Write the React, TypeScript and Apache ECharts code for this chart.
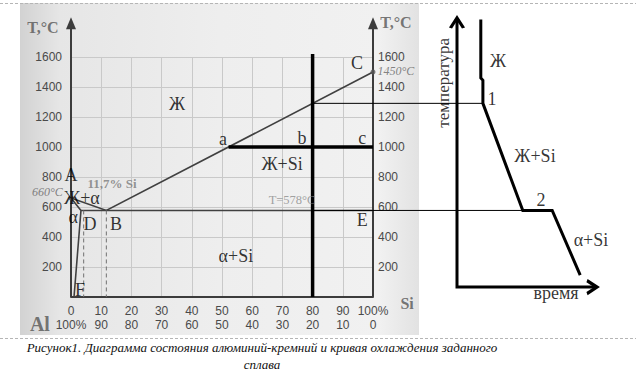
import React, { useEffect, useRef } from "react";
import * as echarts from "echarts";

// ---------- data ----------
const SI_TICKS = [0, 10, 20, 30, 40, 50, 60, 70, 80, 90, 100];
const TEMP_MIN = 0;
const TEMP_MAX = 1600;
const TEMP_STEP = 200;
const AXIS_TOP_T = 1825; // temperature at which axis arrows sit

// phase diagram key points: [Si %, °C]
const POINT_A = [0, 660];
const POINT_B = [11.7, 577];
const POINT_C = [100, 1500];
const POINT_D = [3.3, 577];
const POINT_E = [100, 577];
const POINT_F = [1, 0];
const DASH_D_SI = 4.2;
const ALLOY_SI = 80;
const ALLOY_TOP_T = 1620;
const TIE_T = 1000;

// cooling curve (time in arbitrary units, temperature °C)
const COOL_AXIS_T0 = 66;
const COOL_AXIS_TIP_T = 1860;
const COOL_AXIS_END_TIME = 100;
const COOL_TIME = [17, 17, 18.5, 18.5, 47, 68, 88];
const COOL_TEMP_FIXED = [1850, 1460, 1445, null, 577, 577, 146];

// text labels on the phase diagram
const PHASE_TEXT = ["T,°C", "T,°C", "Ж", "A", "660°C", "11,7% Si", "Ж+α", "α", "D", "B", "F", "a", "b", "c", "C", "1450°C", "Ж+Si", "T=578°C", "E", "α+Si", "Al", "Si"];
const PHASE_TEXT_SI = [-9.3, 107.6, 35.1, 0, -7.8, 13.6, 3.6, 0.7, 6.3, 14.9, 3.0, 50.3, 76.5, 96.4, 94.7, 107.6, 69.9, 73.2, 96.4, 54.6, -10.3, 111.3];
const PHASE_TEXT_T = [1800, 1830, 1288, 812, 703, 757, 657, 531, 485, 485, 46, 1056, 1062, 1062, 1560, 1507, 890, 644, 511, 272, -179, -46];
const PHASE_TEXT_KIND = ["axis", "axis", "big", "big", "italic", "gray", "big", "big", "big", "big", "big", "big", "big", "big", "big", "italic", "big", "faint", "big", "big", "al", "axis"];

// text labels on the cooling curve
const COOL_TEXT = ["Ж", "1", "Ж+Si", "2", "α+Si", "время", "температура"];
const COOL_TEXT_TIME = [29.3, 25, 55.7, 60, 95.7, 70.7, -10];
const COOL_TEXT_T = [1574, 1321, 943, 644, 378, 27, 1428];

const CAPTION = "Рисунок1. Диаграмма состояния алюминий-кремний и кривая охлаждения заданного\nсплава";

// ---------- layout ----------
const PD_LEFT = 71;
const PD_WIDTH = 302;
const CC_LEFT = 457;
const CC_WIDTH = 140;
const GRID_TOP = 57;
const GRID_BOTTOM = 93;
const W = 636;

const SERIF = "'Liberation Serif', 'Times New Roman', serif";
const SANS = "'Liberation Sans', Arial, sans-serif";

const KIND_STYLE: Record<string, any> = {
  big: { fontFamily: SERIF, fontSize: 18, color: "#000" },
  gray: { fontFamily: SERIF, fontSize: 13, color: "#7a7a7a", fontWeight: "bold" },
  faint: { fontFamily: SERIF, fontSize: 12.5, color: "#8c8c8c" },
  italic: { fontFamily: SERIF, fontSize: 12, color: "#666", fontStyle: "italic" },
  axis: { fontFamily: SERIF, fontSize: 16, color: "#555", fontWeight: "bold" },
  al: { fontFamily: SERIF, fontSize: 20, color: "#555", fontWeight: "bold" },
};

function lerpX(p: number[], q: number[], t: number) {
  return p[0] + ((t - p[1]) * (q[0] - p[0])) / (q[1] - p[1]);
}
function lerpY(p: number[], q: number[], x: number) {
  return p[1] + ((x - p[0]) * (q[1] - p[1])) / (q[0] - p[0]);
}
// time on the cooling-curve axis -> equivalent Si % on the phase-diagram axis
function timeToSi(t: number) {
  const px = CC_LEFT + (t / 100) * CC_WIDTH;
  return ((px - PD_LEFT) / PD_WIDTH) * 100;
}

function line(gridIndex: number, data: any[], color: string, width: number, extra: any = {}) {
  const { lineStyle: extraLine, ...rest } = extra;
  return {
    type: "line",
    xAxisIndex: gridIndex === 0 ? 0 : 2,
    yAxisIndex: gridIndex === 0 ? 0 : 2,
    data,
    showSymbol: true,
    symbol: "none",
    clip: false,
    silent: true,
    z: 3,
    ...rest,
    lineStyle: { color, width, cap: "butt", join: "miter", ...(extraLine || {}) },
  };
}

export default function App() {
  const ref = useRef<HTMLDivElement>(null);

  useEffect(() => {
    if (!ref.current) return;
    const chart = echarts.init(ref.current, null, { renderer: "svg" });

    const aSi = lerpX(POINT_B, POINT_C, TIE_T);
    const liqAtAlloy = lerpY(POINT_B, POINT_C, ALLOY_SI);
    const coolTemp = COOL_TEMP_FIXED.map((v) => (v === null ? liqAtAlloy : v));
    const coolData = COOL_TIME.map((t, i) => [t, coolTemp[i]]);
    const point1 = coolData[3];
    const point2 = coolData[4];
    const connectors = [
      [ALLOY_SI, point1[1], timeToSi(point1[0])],
      [ALLOY_SI, point2[1], timeToSi(point2[0])],
    ];

    const triArrow = (v: number[]) => ({ value: v, symbol: "triangle", symbolSize: [10, 12], itemStyle: { color: "#3c3c3c" } });
    const chevron = (v: number[], rotate: number, offset: number[]) => ({
      value: v,
      symbol: "path://M0,10 L6,0 L12,10",
      symbolSize: [13, 10],
      symbolRotate: rotate,
      symbolOffset: offset,
      itemStyle: { color: "rgba(0,0,0,0)", borderColor: "#000", borderWidth: 3 },
    });

    const phaseLabels = PHASE_TEXT.map((txt, i) => ({
      value: [PHASE_TEXT_SI[i], PHASE_TEXT_T[i]],
      label: { show: true, position: "inside", formatter: txt, ...KIND_STYLE[PHASE_TEXT_KIND[i]] },
    }));
    const coolLabels = COOL_TEXT.map((txt, i) => ({
      value: [COOL_TEXT_TIME[i], COOL_TEXT_T[i]],
      label: {
        show: true,
        position: "inside",
        formatter: txt,
        fontFamily: SERIF,
        fontSize: txt === "температура" ? 17 : 18,
        color: "#000",
        rotate: txt === "температура" ? 90 : 0,
      },
    }));

    const gridColor = "#c9c9c9";
    const tickLabel = { fontFamily: SANS, fontSize: 12, color: "#4a4a4a" };

    const option: any = {
      animation: false,
      backgroundColor: "#ffffff",
      graphic: [
        {
          type: "rect",
          z: -10,
          silent: true,
          shape: { x: 20, y: 3, width: 399, height: 332 },
          style: {
            fill: new echarts.graphic.LinearGradient(0, 0, 1, 0, [
              { offset: 0, color: "#d2d2d2" },
              { offset: 0.1, color: "#e6e6e6" },
              { offset: 0.5, color: "#eeeeee" },
              { offset: 0.9, color: "#f1f1f1" },
              { offset: 1, color: "#e2e2e2" },
            ]),
          },
        },
        {
          type: "line",
          z: -5,
          silent: true,
          shape: { x1: 0, y1: 3.5, x2: W, y2: 3.5 },
          style: { stroke: "#b5b5b5", lineWidth: 1, lineDash: [3, 2] },
        },
        {
          type: "line",
          z: -5,
          silent: true,
          shape: { x1: 0, y1: 338.5, x2: W, y2: 338.5 },
          style: { stroke: "#b5b5b5", lineWidth: 1, lineDash: [3, 2] },
        },
        {
          type: "text",
          x: 262,
          y: 339,
          silent: true,
          style: {
            text: CAPTION,
            textAlign: "center",
            textVerticalAlign: "top",
            fontFamily: SERIF,
            fontStyle: "italic",
            fontSize: 13,
            lineHeight: 17,
            fill: "#111",
          },
        },
      ],
      grid: [
        { left: PD_LEFT, width: PD_WIDTH, top: GRID_TOP, bottom: GRID_BOTTOM, containLabel: false },
        { left: CC_LEFT, width: CC_WIDTH, top: GRID_TOP, bottom: GRID_BOTTOM, containLabel: false },
      ],
      xAxis: [
        {
          gridIndex: 0,
          type: "value",
          min: SI_TICKS[0],
          max: SI_TICKS[SI_TICKS.length - 1],
          interval: SI_TICKS[1] - SI_TICKS[0],
          position: "bottom",
          axisLine: { show: true, lineStyle: { color: "#3c3c3c", width: 2 } },
          axisTick: { show: false },
          axisLabel: { ...tickLabel, margin: 8, formatter: (v: number) => (v === 100 ? "100%" : String(v)) },
          splitLine: { show: true, lineStyle: { color: gridColor, width: 1 } },
        },
        {
          gridIndex: 0,
          type: "value",
          min: SI_TICKS[0],
          max: SI_TICKS[SI_TICKS.length - 1],
          interval: SI_TICKS[1] - SI_TICKS[0],
          position: "bottom",
          offset: 14,
          axisLine: { show: false },
          axisTick: { show: false },
          axisLabel: { ...tickLabel, margin: 8, formatter: (v: number) => (v === 0 ? "100%" : String(100 - v)) },
          splitLine: { show: false },
        },
        { gridIndex: 1, type: "value", min: 0, max: 100, show: false },
      ],
      yAxis: [
        {
          gridIndex: 0,
          type: "value",
          min: TEMP_MIN,
          max: TEMP_MAX,
          interval: TEMP_STEP,
          position: "left",
          axisLine: { show: false },
          axisTick: { show: false },
          axisLabel: { ...tickLabel, margin: 9, formatter: (v: number) => (v === 0 ? "" : String(v)) },
          splitLine: { show: true, lineStyle: { color: gridColor, width: 1 } },
        },
        {
          gridIndex: 0,
          type: "value",
          min: TEMP_MIN,
          max: TEMP_MAX,
          interval: TEMP_STEP,
          position: "right",
          axisLine: { show: false },
          axisTick: { show: false },
          axisLabel: { ...tickLabel, margin: 5, formatter: (v: number) => (v === 0 ? "" : String(v)) },
          splitLine: { show: false },
        },
        { gridIndex: 1, type: "value", min: TEMP_MIN, max: TEMP_MAX, show: false },
      ],
      series: [
        // axes of the phase diagram
        line(0, [[0, 0], triArrow([0, AXIS_TOP_T])], "#3c3c3c", 2),
        line(0, [[100, 0], triArrow([100, AXIS_TOP_T])], "#3c3c3c", 2),
        // liquidus
        line(0, [POINT_A, POINT_B, POINT_C], "#404040", 1.6),
        // eutectic
        line(0, [POINT_D, POINT_E], "#404040", 1.6),
        // solidus + solvus
        line(0, [POINT_A, POINT_D, POINT_F], "#404040", 1.6),
        // dashed verticals
        line(0, [[DASH_D_SI, POINT_D[1]], [DASH_D_SI, 0]], "#707070", 1, { lineStyle: { type: [4, 3] } }),
        line(0, [[POINT_B[0], POINT_B[1]], [POINT_B[0], 0]], "#707070", 1, { lineStyle: { type: [4, 3] } }),
        // points A, C
        {
          type: "scatter",
          xAxisIndex: 0,
          yAxisIndex: 0,
          data: [POINT_A, POINT_C],
          symbolSize: 5,
          itemStyle: { color: "#555" },
          silent: true,
          z: 4,
        },
        // thin connectors from the alloy line to the cooling-curve points
        {
          type: "custom",
          xAxisIndex: 0,
          yAxisIndex: 0,
          data: connectors,
          silent: true,
          clip: false,
          z: 4,
          renderItem: (_params: any, api: any) => {
            const p0 = api.coord([api.value(0), api.value(1)]);
            const p1 = api.coord([api.value(2), api.value(1)]);
            return {
              type: "line",
              shape: { x1: p0[0], y1: p0[1], x2: p1[0], y2: p1[1] },
              style: { stroke: "#000", lineWidth: 1 },
            };
          },
        },
        // alloy vertical & tie line
        line(0, [[ALLOY_SI, 0], [ALLOY_SI, ALLOY_TOP_T]], "#000", 3.5, { z: 5 }),
        line(0, [[aSi, TIE_T], [100, TIE_T]], "#000", 3.5, { z: 5 }),
        // cooling-curve axes
        line(
          1,
          [chevron([0, COOL_AXIS_TIP_T], 0, [0, 5]), [0, COOL_AXIS_T0], chevron([COOL_AXIS_END_TIME, COOL_AXIS_T0], -90, [-5, 0])],
          "#000",
          3
        ),
        // cooling curve
        line(1, coolData, "#000", 3),
        // labels
        {
          type: "scatter",
          xAxisIndex: 0,
          yAxisIndex: 0,
          data: phaseLabels,
          symbolSize: 1,
          clip: false,
          silent: true,
          itemStyle: { color: "rgba(0,0,0,0)" },
          z: 6,
        },
        {
          type: "scatter",
          xAxisIndex: 2,
          yAxisIndex: 2,
          data: coolLabels,
          symbolSize: 1,
          clip: false,
          silent: true,
          itemStyle: { color: "rgba(0,0,0,0)" },
          z: 6,
        },
      ],
    };

    chart.setOption(option);
    return () => chart.dispose();
  }, []);

  return <div ref={ref} style={{ position: "fixed", left: 0, top: 0, width: W, height: 390 }} />;
}
